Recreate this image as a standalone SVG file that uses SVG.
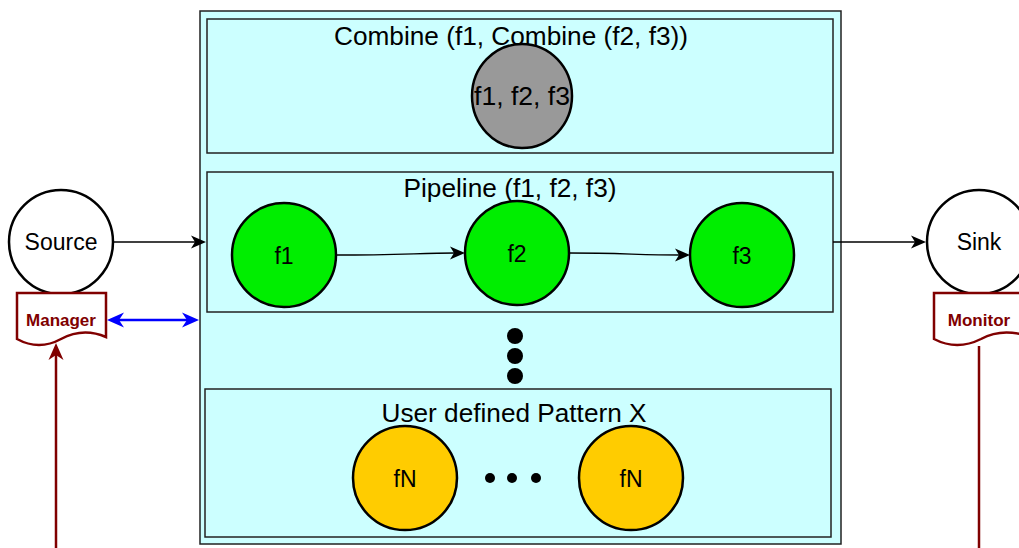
<svg xmlns="http://www.w3.org/2000/svg" width="1019" height="548" viewBox="0 0 1019 548">
  <style>
    .box { fill: #ccffff; stroke: #222; stroke-width: 1.5; }
    .node { stroke: #000; stroke-width: 2.5; }
    .lbl { font-family: "Liberation Sans", Arial, sans-serif; fill: #000; text-anchor: middle; }
    .title { font-size: 25px; }
    .nl { font-size: 23px; }
    .doc { fill: #fff; stroke: #800000; stroke-width: 2.5; }
    .doct { font-family: "Liberation Sans", Arial, sans-serif; font-weight: bold; font-size: 17px; fill: #800000; text-anchor: middle; }
    .edge { fill: none; stroke: #000; stroke-width: 1.3; }
  </style>
  <defs>
    <!-- arrowheads are drawn in user space so they keep a fixed size -->
    <path id="head" d="M0,0 L-15,-6.5 L-11,0 L-15,6.5 Z"/>
    <path id="headBig" d="M0,0 L-17,-7.5 L-12,0 L-17,7.5 Z"/>
  </defs>

  <rect width="1019" height="548" fill="#fff"/>

  <!-- outer container -->
  <g id="container">
    <rect class="box" x="200" y="11" width="641" height="533"/>
  </g>

  <!-- combine pattern -->
  <g id="combine">
    <rect class="box" x="207" y="19" width="626" height="134"/>
    <text class="lbl title" x="511" y="45" textLength="354" lengthAdjust="spacingAndGlyphs">Combine (f1, Combine (f2, f3))</text>
  </g>
  <g id="combined-fn">
    <ellipse class="node" cx="522" cy="96" rx="50" ry="52" fill="#999999"/>
    <text class="lbl title" x="522" y="105" textLength="96" lengthAdjust="spacingAndGlyphs">f1, f2, f3</text>
  </g>

  <!-- pipeline pattern -->
  <g id="pipeline">
    <rect class="box" x="207" y="172" width="626" height="140"/>
    <text class="lbl title" x="510" y="197" textLength="213" lengthAdjust="spacingAndGlyphs">Pipeline (f1, f2, f3)</text>
  </g>
  <g id="f1">
    <circle class="node" cx="284" cy="255" r="52" fill="#00ee00"/>
    <text class="lbl nl" x="284" y="264">f1</text>
  </g>
  <g id="f2">
    <circle class="node" cx="517" cy="253" r="52" fill="#00ee00"/>
    <text class="lbl nl" x="517" y="262">f2</text>
  </g>
  <g id="f3">
    <circle class="node" cx="742" cy="255" r="52" fill="#00ee00"/>
    <text class="lbl nl" x="742" y="264">f3</text>
  </g>

  <!-- vertical ellipsis -->
  <g id="more-patterns">
    <circle cx="515" cy="336" r="8" fill="#000"/>
    <circle cx="515" cy="356" r="8" fill="#000"/>
    <circle cx="515" cy="376" r="8" fill="#000"/>
  </g>

  <!-- user defined pattern -->
  <g id="user-pattern">
    <rect class="box" x="205" y="389" width="626" height="148"/>
    <text class="lbl title" x="514" y="422" textLength="265" lengthAdjust="spacingAndGlyphs">User defined Pattern X</text>
  </g>
  <g id="fN-1">
    <circle class="node" cx="405" cy="478" r="52" fill="#ffcc00"/>
    <text class="lbl nl" x="405" y="487">fN</text>
  </g>
  <g id="fN-ellipsis">
    <circle cx="490" cy="478" r="5" fill="#000"/>
    <circle cx="512" cy="478" r="5" fill="#000"/>
    <circle cx="536" cy="478" r="5" fill="#000"/>
  </g>
  <g id="fN-2">
    <circle class="node" cx="631" cy="478" r="52" fill="#ffcc00"/>
    <text class="lbl nl" x="631" y="487">fN</text>
  </g>

  <!-- source / sink -->
  <g id="source">
    <circle class="node" cx="61" cy="242" r="52" fill="#fff"/>
    <text class="lbl nl" x="61" y="250">Source</text>
  </g>
  <g id="sink">
    <circle class="node" cx="979" cy="242" r="52" fill="#fff"/>
    <text class="lbl nl" x="979" y="250">Sink</text>
  </g>

  <!-- manager / monitor documents -->
  <g id="manager">
    <path class="doc" d="M17,293 H106 V337 Q83,327 61,339 Q39,351 17,339 Z"/>
    <text class="doct" x="61" y="326">Manager</text>
  </g>
  <g id="monitor">
    <path class="doc" d="M934,293 H1030 V337 Q1003,327 981,339 Q957,351 934,339 Z"/>
    <text class="doct" x="979" y="326">Monitor</text>
  </g>

  <!-- connectors -->
  <g id="connectors">
    <path class="edge" d="M113,242 H196"/>
    <use href="#head" x="0" y="0" transform="translate(206,242)" fill="#000"/>
    <path class="edge" d="M833,242 H916"/>
    <use href="#head" transform="translate(926,242)" fill="#000"/>
    <path class="edge" d="M336,255 C400,255 420,253 455,253"/>
    <use href="#head" transform="translate(465,253)" fill="#000"/>
    <path class="edge" d="M569,253 C620,253 640,255 680,255"/>
    <use href="#head" transform="translate(690,255)" fill="#000"/>

    <path d="M118,320 H188" fill="none" stroke="#0000ff" stroke-width="2.5"/>
    <use href="#headBig" transform="translate(107,320) rotate(180)" fill="#0000ff"/>
    <use href="#headBig" transform="translate(199,320)" fill="#0000ff"/>

    <path d="M56,548 V355" fill="none" stroke="#800000" stroke-width="2.5"/>
    <use href="#headBig" transform="translate(56,343) rotate(-90)" fill="#800000"/>
    <path d="M979,346 V548" fill="none" stroke="#800000" stroke-width="2.5"/>
  </g>
</svg>
